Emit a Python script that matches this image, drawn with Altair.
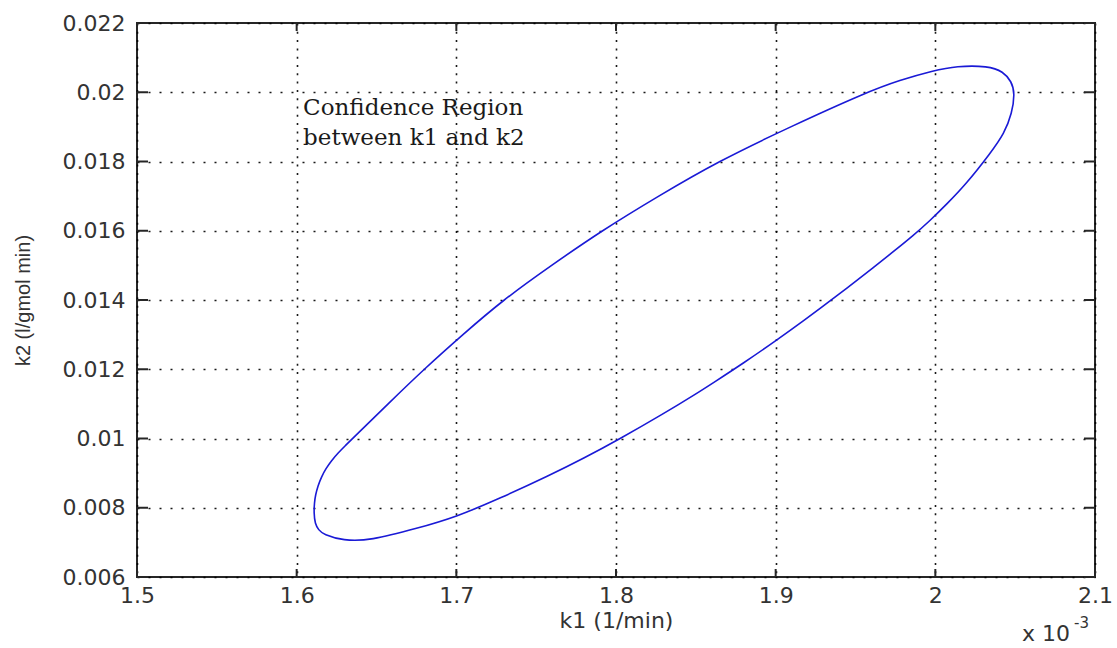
import altair as alt
import pandas as pd

# Confidence-region contour (k1 in units of 1e-3 1/min, k2 in l/gmol min); closed loop
k1_e3 = [1.6108, 1.6111, 1.6118, 1.6133, 1.6155, 1.6183, 1.6218, 1.6259, 1.6306, 1.6353,
         1.6572, 1.6797, 1.7040, 1.7292, 1.7595, 1.7910, 1.8265, 1.8638, 1.9090, 1.9569,
         1.9778, 1.9986, 2.0133, 2.0331, 2.0425, 2.0477, 2.0498,
         2.0480, 2.0432, 2.0345, 2.0195, 2.0070, 1.9966, 1.9861, 1.9746, 1.9632, 1.9381,
         1.9172, 1.9006, 1.8796, 1.8609, 1.8505, 1.8296, 1.8024, 1.7795, 1.7586, 1.7273,
         1.7002, 1.6751, 1.6459, 1.6292, 1.6167, 1.6137, 1.6115]
k2 = [0.00785, 0.00814, 0.00837, 0.00863, 0.00889, 0.00913, 0.00936, 0.00958, 0.00980, 0.01001,
      0.01100, 0.01200, 0.01300, 0.01400, 0.01500, 0.01600, 0.01700, 0.01800, 0.01900, 0.02000,
      0.02035, 0.02062, 0.02076, 0.02076, 0.02060, 0.02031, 0.01998,
      0.01939, 0.01881, 0.01824, 0.01736, 0.01676, 0.01629, 0.01586, 0.01543, 0.01501, 0.01411,
      0.01339, 0.01284, 0.01217, 0.01161, 0.01130, 0.01071, 0.00999, 0.00942, 0.00894, 0.00827,
      0.00774, 0.00740, 0.00705, 0.00705, 0.00723, 0.00736, 0.00754]

x_ticks = [1.5, 1.6, 1.7, 1.8, 1.9, 2.0, 2.1]
y_ticks = [0.006, 0.008, 0.010, 0.012, 0.014, 0.016, 0.018, 0.020, 0.022]

note_lines = ["Confidence Region", "between k1 and k2"]
note_k1 = 1.604
note_k2 = 0.01934

W, H = 958, 554

curve = pd.DataFrame({"k1": k1_e3, "k2": k2, "i": list(range(len(k1_e3)))})
xt = pd.DataFrame({"v": x_ticks})
yt = pd.DataFrame({"v": y_ticks})
note = pd.DataFrame({"k1": [note_k1], "k2": [note_k2], "t": [note_lines]})

xscale = alt.Scale(domain=[1.5, 2.1], nice=False, zero=False)
yscale = alt.Scale(domain=[0.006, 0.022], nice=False, zero=False)

LABEL_FONT = "DejaVu Sans"

x_axis = alt.Axis(
    values=x_ticks, format="~g", title="k1 (1/min)",
    grid=True, gridColor="#000000", gridDash=[2, 6.3], gridWidth=1.6, gridOpacity=0.9,
    domain=False, ticks=False, tickSize=0,
    labelFont=LABEL_FONT, labelFontSize=22, labelColor="#333333", labelPadding=8,
    labelFlush=False,
    titleFont=LABEL_FONT, titleFontSize=22, titleColor="#333333", titleFontWeight="normal",
    titleX=479, titleY=43, titleBaseline="middle", titleAnchor="middle",
)
y_axis = alt.Axis(
    values=y_ticks, format="~g", title="k2 (l/gmol min)",
    grid=True, gridColor="#000000", gridDash=[2, 9], gridWidth=1.6, gridOpacity=0.9,
    domain=False, ticks=False, tickSize=0,
    labelFont=LABEL_FONT, labelFontSize=22, labelColor="#333333", labelPadding=12,
    labelFlush=False,
    titleFont="Liberation Sans", titleFontSize=20, titleColor="#333333", titleFontWeight="normal",
    titleX=-114, titleY=277, titleAngle=-90, titleBaseline="middle", titleAlign="center",
)

base_axes = alt.Chart(curve).mark_point(opacity=0).encode(
    x=alt.X("k1:Q", scale=xscale, axis=x_axis),
    y=alt.Y("k2:Q", scale=yscale, axis=y_axis),
)

line = alt.Chart(curve).mark_line(color="#1a1ad6", strokeWidth=1.6, interpolate="basis-closed").encode(
    x=alt.X("k1:Q", scale=xscale),
    y=alt.Y("k2:Q", scale=yscale),
    order="i:Q",
)

tick_color = "#262626"
xt_bottom = alt.Chart(xt).mark_rule(color=tick_color, strokeWidth=2).encode(
    x=alt.X("v:Q", scale=xscale), y=alt.value(H), y2=alt.value(H - 8))
xt_top = alt.Chart(xt).mark_rule(color=tick_color, strokeWidth=2).encode(
    x=alt.X("v:Q", scale=xscale), y=alt.value(0), y2=alt.value(8))
yt_left = alt.Chart(yt).mark_rule(color=tick_color, strokeWidth=2).encode(
    y=alt.Y("v:Q", scale=yscale), x=alt.value(0), x2=alt.value(11))
yt_right = alt.Chart(yt).mark_rule(color=tick_color, strokeWidth=2).encode(
    y=alt.Y("v:Q", scale=yscale), x=alt.value(W), x2=alt.value(W - 11))

note_text = alt.Chart(note).mark_text(
    font="DejaVu Serif", fontSize=23, align="left", baseline="alphabetic",
    lineHeight=30, color="#1a1a1a",
).encode(
    x=alt.X("k1:Q", scale=xscale), y=alt.Y("k2:Q", scale=yscale), text="t")

exp_df = pd.DataFrame({"a": [1]})
exp_main = alt.Chart(exp_df).mark_text(
    font=LABEL_FONT, fontSize=22, align="left", baseline="middle", color="#333333",
).encode(x=alt.value(885), y=alt.value(611), text=alt.value("x 10"))
exp_sup = alt.Chart(exp_df).mark_text(
    font=LABEL_FONT, fontSize=15, align="left", baseline="middle", color="#333333",
).encode(x=alt.value(937), y=alt.value(600), text=alt.value("-3"))

chart = alt.layer(
    base_axes, line, xt_bottom, xt_top, yt_left, yt_right, note_text, exp_main, exp_sup
).properties(
    width=W, height=H,
    autosize=alt.AutoSizeParams(type="none"),
    padding={"left": 137, "top": 23, "right": 22, "bottom": 71},
    background="white",
).configure_view(
    stroke="#262626", strokeWidth=2,
)

chart.save("out.html", embed_options={"renderer": "svg", "actions": False})
